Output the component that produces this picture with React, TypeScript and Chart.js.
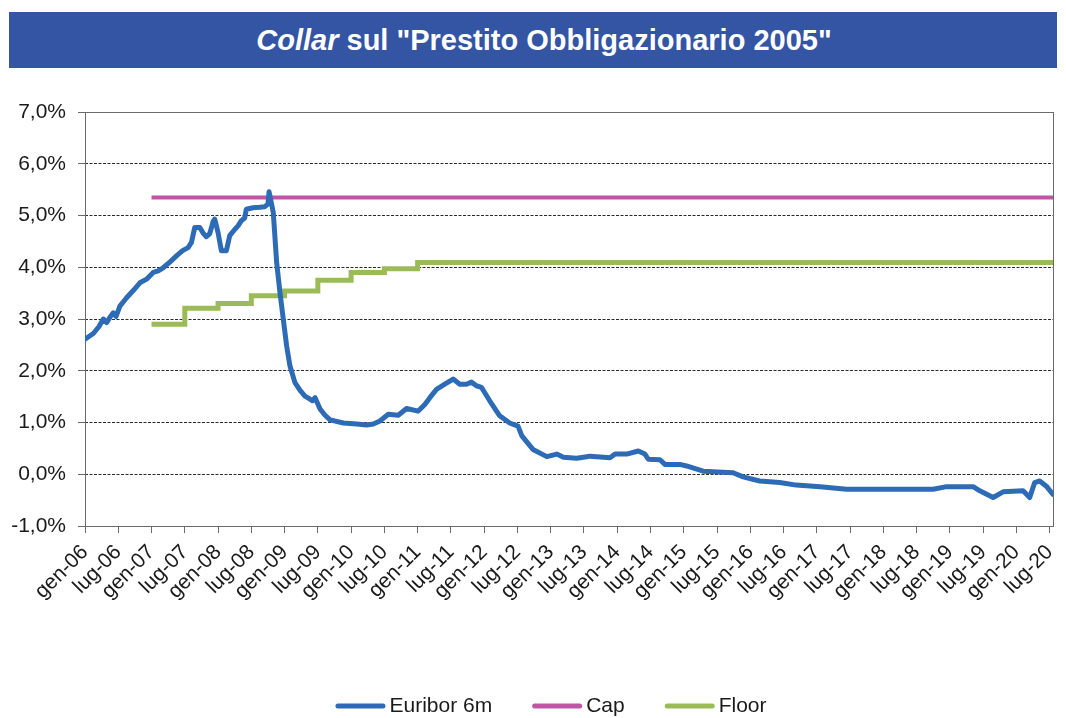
import React, { useEffect, useRef } from "react";
import { Chart, registerables } from "chart.js";

Chart.register(...registerables);

const xTickLabels = [
  "gen-06", "lug-06", "gen-07", "lug-07", "gen-08", "lug-08", "gen-09", "lug-09",
  "gen-10", "lug-10", "gen-11", "lug-11", "gen-12", "lug-12", "gen-13", "lug-13",
  "gen-14", "lug-14", "gen-15", "lug-15", "gen-16", "lug-16", "gen-17", "lug-17",
  "gen-18", "lug-18", "gen-19", "lug-19", "gen-20", "lug-20",
];

// months since gen-06
const euriborMonths = [
  0, 1.5, 2.5, 3.3, 3.9, 4.6, 5.1, 5.6, 6.3, 7.5, 8.7, 9.9, 11.1, 12.3, 13.2, 14.1,
  15.3, 16.5, 17.6, 18.6, 19.2, 19.8, 20.7, 21.3, 21.9, 22.5, 23.1, 23.4, 24.0, 24.6,
  25.5, 26.1, 27.0, 27.6, 28.2, 28.8, 29.1, 30.3, 31.5, 32.4, 33.0, 33.2, 33.96, 34.57,
  35.17, 35.76, 36.37, 36.97, 37.87, 38.8, 39.67, 40.6, 41.0, 41.5, 42.4, 43.3, 44.2,
  46.6, 49.0, 50.8, 52.0, 53.2, 54.7, 56.5, 58.0, 60.1, 61.3, 62.2, 63.4, 64.6, 66.4,
  67.6, 68.8, 69.7, 70.6, 71.5, 73.0, 74.8, 76.6, 78.1, 78.8, 80.8, 83.3, 85.1, 86.3,
  88.7, 90.5, 91.1, 94.7, 95.6, 97.7, 99.8, 101.0, 101.6, 103.7, 104.6, 107.3, 108.5,
  111.5, 116.9, 118.7, 121.7, 125.3, 128.3, 132.6, 137.4, 153.0, 155.4, 160.2, 161.4,
  163.8, 165.6, 169.2, 170.4, 171.3, 172.2, 173.4, 174.6,
];
const euriborValues = [
  2.61, 2.72, 2.85, 3.0, 2.93, 3.05, 3.12, 3.05, 3.25, 3.41, 3.55, 3.7, 3.77, 3.9, 3.93, 3.99,
  4.1, 4.22, 4.32, 4.38, 4.48, 4.77, 4.77, 4.66, 4.59, 4.65, 4.88, 4.93, 4.67, 4.32,
  4.32, 4.61, 4.73, 4.8, 4.9, 4.95, 5.12, 5.15, 5.16, 5.17, 5.22, 5.46, 5.06, 4.09,
  3.51, 3.0, 2.48, 2.09, 1.77, 1.62, 1.51, 1.45, 1.42, 1.48, 1.26, 1.14, 1.05,
  0.99, 0.97, 0.95, 0.97, 1.03, 1.16, 1.14, 1.27, 1.22, 1.35, 1.48, 1.64, 1.72, 1.84,
  1.74, 1.74, 1.78, 1.71, 1.68, 1.42, 1.13, 0.99, 0.93, 0.74, 0.48, 0.34, 0.39, 0.33,
  0.31, 0.34, 0.35, 0.32, 0.39, 0.39, 0.45, 0.39, 0.29, 0.28, 0.19, 0.19, 0.16,
  0.06, 0.03, -0.05, -0.13, -0.16, -0.21, -0.24, -0.29, -0.29, -0.24, -0.24, -0.32,
  -0.45, -0.34, -0.32, -0.45, -0.16, -0.13, -0.23, -0.39,
];

const capMonths = [12, 174.6];
const capValues = [5.35, 5.35];

const floorMonths = [12, 18, 24, 30, 36, 42, 48, 54, 60, 174.6];
const floorValues = [2.9, 3.21, 3.3, 3.45, 3.54, 3.75, 3.9, 3.97, 4.09, 4.09];

const seriesNames = ["Euribor 6m", "Cap", "Floor"];
const seriesColors = ["#2E6BB6", "#BF55A6", "#9BBB59"];

const FONT = '"Liberation Sans", Arial, sans-serif';

const toPoints = (xs: number[], ys: number[]) => xs.map((x, i) => ({ x, y: ys[i] }));

const frameAndLegend = {
  id: "frameAndLegend",
  beforeDatasetsDraw(chart: any) {
    const { ctx, chartArea } = chart;
    ctx.save();
    ctx.setLineDash([]);
    ctx.strokeStyle = "#6a6a6a";
    ctx.lineWidth = 1;
    ctx.strokeRect(
      Math.round(chartArea.left) + 0.5,
      Math.round(chartArea.top) + 0.5,
      Math.round(chartArea.right - chartArea.left),
      Math.round(chartArea.bottom - chartArea.top)
    );
    ctx.restore();
  },
  afterDraw(chart: any) {
    const { ctx } = chart;
    ctx.save();
    ctx.font = `21px ${FONT}`;
    ctx.textBaseline = "middle";
    ctx.textAlign = "left";
    const sw = 50;
    const gapText = 4;
    const gapItem = 40;
    const widths = seriesNames.map((n) => ctx.measureText(n).width);
    const total =
      widths.reduce((a, b) => a + b, 0) + seriesNames.length * (sw + gapText) + gapItem * (seriesNames.length - 1);
    let x = 551 - total / 2;
    const y = 706;
    seriesNames.forEach((n, i) => {
      ctx.strokeStyle = seriesColors[i];
      ctx.lineWidth = 5;
      ctx.lineCap = "round";
      ctx.beginPath();
      ctx.moveTo(x + 2.5, y);
      ctx.lineTo(x + sw - 2.5, y);
      ctx.stroke();
      ctx.fillStyle = "#1a1a1a";
      ctx.fillText(n, x + sw + gapText, y);
      x += sw + gapText + widths[i] + gapItem;
    });
    ctx.restore();
  },
};

export default function App() {
  const ref = useRef<HTMLCanvasElement | null>(null);

  useEffect(() => {
    if (!ref.current) return;
    const chart = new Chart(ref.current, {
      type: "line",
      data: {
        datasets: [
          {
            label: seriesNames[0],
            data: toPoints(euriborMonths, euriborValues),
            borderColor: seriesColors[0],
            backgroundColor: seriesColors[0],
            borderWidth: 5,
            pointRadius: 0,
            tension: 0,
            borderJoinStyle: "round",
            borderCapStyle: "round",
          },
          {
            label: seriesNames[1],
            data: toPoints(capMonths, capValues),
            borderColor: seriesColors[1],
            backgroundColor: seriesColors[1],
            borderWidth: 4,
            pointRadius: 0,
          },
          {
            label: seriesNames[2],
            data: toPoints(floorMonths, floorValues),
            borderColor: seriesColors[2],
            backgroundColor: seriesColors[2],
            borderWidth: 5,
            pointRadius: 0,
            stepped: "before",
          },
        ],
      } as any,
      options: {
        animation: false,
        responsive: false,
        maintainAspectRatio: false,
        layout: { padding: { top: 112, right: 13, bottom: 72, left: 0 } },
        plugins: {
          legend: { display: false },
          title: { display: false },
          tooltip: { enabled: false },
        },
        scales: {
          x: {
            type: "linear",
            min: 0,
            max: 174.6,
            afterBuildTicks: (scale: any) => {
              scale.ticks = xTickLabels.map((_, i) => ({ value: i * 6 }));
            },
            afterFit: (scale: any) => {
              scale.height = 120;
              scale.paddingRight = 0;
              scale.paddingLeft = 0;
            },
            ticks: {
              autoSkip: false,
              maxRotation: 45,
              minRotation: 45,
              padding: 7,
              color: "#1a1a1a",
              font: { family: FONT, size: 21 },
              callback: (value: any) => xTickLabels[Math.round(Number(value) / 6)] ?? "",
            },
            grid: {
              drawOnChartArea: false,
              drawTicks: true,
              tickLength: 7,
              color: "#6a6a6a",
              tickColor: "#6a6a6a",
            },
            border: { display: false },
          },
          y: {
            type: "linear",
            min: -1,
            max: 7,
            afterFit: (scale: any) => {
              scale.width = 85;
            },
            ticks: {
              stepSize: 1,
              padding: 12,
              color: "#1a1a1a",
              font: { family: FONT, size: 21 },
              callback: (value: any) => Number(value).toFixed(1).replace(".", ",") + "%",
            },
            grid: {
              color: (c: any) =>
                c.tick && (c.tick.value === 7 || c.tick.value === -1) ? "rgba(0,0,0,0)" : "#2a2a2a",
              tickColor: "#6a6a6a",
              tickLength: 7,
              lineWidth: 1,
            },
            border: { display: false, dash: [3, 1.5] },
          },
        },
      } as any,
      plugins: [frameAndLegend],
    });
    return () => chart.destroy();
  }, []);

  return (
    <div style={{ position: "absolute", left: 0, top: 0, width: 1066, height: 718, background: "#fff" }}>
      <canvas ref={ref} width={1066} height={718} style={{ position: "absolute", left: 0, top: 0, width: 1066, height: 718 }} />
      <div
        style={{
          position: "absolute",
          left: 9,
          top: 12,
          width: 1048,
          height: 56,
          background: "#3454A4",
          color: "#fff",
          fontFamily: FONT,
          fontWeight: "bold",
          fontSize: 29,
          lineHeight: "56px",
          textAlign: "center",
          boxSizing: "border-box",
          paddingLeft: 22,
          whiteSpace: "nowrap",
        }}
      >
        <i>Collar</i> sul "Prestito Obbligazionario 2005"
      </div>
    </div>
  );
}
